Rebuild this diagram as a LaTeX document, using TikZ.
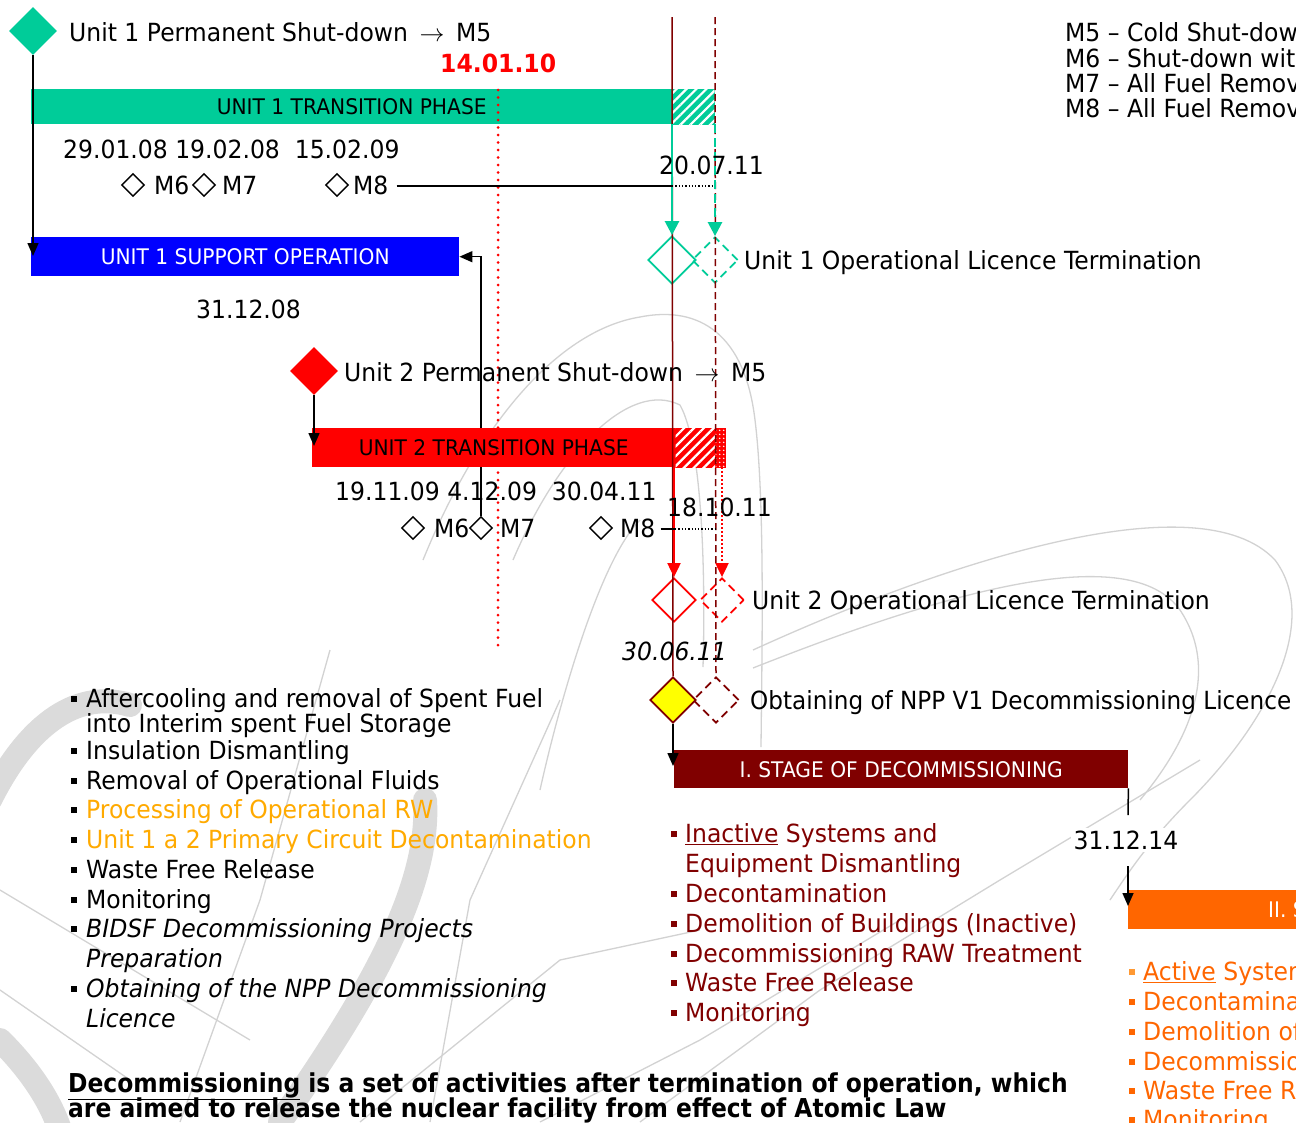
\documentclass[tikz,border=0pt]{standalone}
\usepackage{fontspec}
\setmainfont{DejaVu Sans}[FakeStretch=0.94]
\newfontfamily\tightfont{DejaVu Sans}[FakeStretch=0.925]
\newfontfamily\narrowbold{DejaVu Sans}[FakeStretch=0.9]
\usetikzlibrary{shapes.geometric,arrows.meta,patterns.meta}

\definecolor{ugreen}{HTML}{00CC99}
\definecolor{ublue}{HTML}{0000FF}
\definecolor{ured}{HTML}{FF0000}
\definecolor{maroon}{HTML}{800000}
\definecolor{storange}{HTML}{FF6600}
\definecolor{paleorange}{HTML}{FF9933}
\definecolor{gold}{HTML}{FFAA00}
\definecolor{wmgray}{HTML}{D2D2D2}
\definecolor{uyellow}{HTML}{FFFF00}

\begin{document}
\begin{tikzpicture}[x=1pt,y=-1pt,
  lbl/.style={font=\fontsize{25}{30}\selectfont, inner sep=0pt, anchor=base west},
  barlbl/.style={font=\fontsize{21.5}{25}\selectfont},
  bar/.style={anchor=north west, inner sep=0pt, minimum height=39pt},
  dia/.style={diamond, aspect=1, inner sep=0pt, minimum width=#1, minimum height=#1},
  ms/.style={diamond, aspect=1, draw=black, line width=1.4pt, inner sep=0pt, minimum width=23pt, minimum height=23pt},
  arr/.style={line width=1.5pt, -{Triangle[length=13pt,width=11pt]}},
  garr/.style={ugreen, line width=2.5pt, -{Triangle[length=14pt,width=14pt]}},
  rarr/.style={ured, line width=2pt, -{Triangle[length=14pt,width=13pt]}},
  dashd/.style={dash pattern=on 8pt off 5pt},
  bul/.style={rectangle, fill, inner sep=0pt, minimum size=6.5pt},
  wm/.style={wmgray, line width=1.3pt},
  wmthick/.style={wmgray!80, line width=24pt, line cap=round}
]
% page
\fill[white] (0,0) rectangle (1296,1122);
\useasboundingbox (0,0) rectangle (1296,1122);

% ---------- background emblem ----------
\draw[wmthick] (-10,800) .. controls (30,720) and (80,690) .. (130,705);
\draw[wmthick] (425,800) .. controls (430,880) and (380,980) .. (280,1122);
\draw[wmthick] (0,1040) .. controls (30,1070) and (50,1100) .. (60,1130);
% arcs in the middle
\draw[wm] (423,560) .. controls (480,420) and (560,330) .. (640,317)
           .. controls (700,305) and (745,335) .. (755,420)
           .. controls (765,500) and (762,650) .. (761,747);
\draw[wm] (513,560) .. controls (560,450) and (630,380) .. (680,405)
           .. controls (705,450) and (705,600) .. (703,667);
\draw[wm] (540,790) .. controls (560,700) and (600,560) .. (640,520);
% loops on the right
\draw[wm] (753,650) .. controls (950,560) and (1200,480) .. (1275,560)
           .. controls (1320,620) and (1270,720) .. (1190,800)
           .. controls (1150,840) and (1130,870) .. (1110,900);
\draw[wm] (753,668) .. controls (950,590) and (1130,540) .. (1180,610)
           .. controls (1220,670) and (1190,740) .. (1140,800);
% straight strokes
\draw[wm] (0,890) -- (250,1040);
\draw[wm] (0,990) -- (130,1080);
\draw[wm] (360,1122) -- (560,960) -- (700,930);
\draw[wm] (640,1122) -- (820,990) -- (1000,880) -- (1200,760);
\draw[wm] (540,1122) -- (700,1040) -- (900,920);
\draw[wm] (180,1122) -- (260,900) -- (330,650);
\draw[wm] (430,1122) -- (470,900) -- (560,700);

% ---------- connector from unit 2 M7 up to support operation ----------
\node[ms] (u2m7) at (481,528) {};
\node[bar, fill=ublue, minimum width=428pt, text=white, barlbl] (u1so) at (31,237) {UNIT 1 SUPPORT OPERATION};
\draw[arr] (u2m7.north) |- (u1so.east);

% ---------- phase bars ----------
\node[bar, fill=ugreen, minimum width=641pt, minimum height=35pt, barlbl] (u1tp) at (31,89) {UNIT 1 TRANSITION PHASE};
\node[bar, fill=ugreen, draw=ugreen, line width=1pt, minimum width=42pt, minimum height=35pt,
      postaction={pattern={Lines[angle=45,distance=7pt,line width=2.2pt]}, pattern color=white}] (u1tph) at (672,89) {};
\node[bar, fill=ured, minimum width=363pt, barlbl] (u2tp) at (312,428) {UNIT 2 TRANSITION PHASE};
\node[bar, fill=ured, draw=ured, line width=1pt, minimum width=40pt,
      postaction={pattern={Lines[angle=45,distance=7pt,line width=2.2pt]}, pattern color=white}] (u2tph) at (675,428) {};
\node[bar, fill=ured, draw=ured, line width=1pt, minimum width=10pt,
      postaction={pattern={Dots[radius=1pt,distance=4pt]}, pattern color=white}] (u2tpd) at (715,428) {};
\node[bar, fill=maroon, minimum width=454pt, minimum height=38pt, text=white, barlbl] (st1) at (674,750) {I. STAGE OF DECOMMISSIONING};
\node[bar, fill=storange, minimum width=320pt] (st2) at (1128,890) {};
\node[barlbl, text=white, anchor=base west, inner sep=0pt] (st2l) at (1268,917) {II. STAGE OF DECOMMISSIONING};

% ---------- milestones ----------
\node[dia=48pt, fill=ugreen] (u1sd) at (33,31) {};
\node[dia=48pt, fill=ured] (u2sd) at (314,371) {};
\node[dia=48pt, draw=ugreen, line width=1.8pt] (u1olt) at (672,260) {};
\node[dia=46pt, draw=ugreen, line width=1.8pt, dashd] (u1oltp) at (715,260) {};
\node[dia=44pt, draw=ured, line width=1.8pt] (u2olt) at (674,600) {};
\node[dia=44pt, draw=ured, line width=1.8pt, dashd] (u2oltp) at (722,600) {};
\node[dia=46pt, fill=uyellow, draw=maroon, line width=1.8pt] (lic) at (673,700) {};
\node[dia=46pt, draw=maroon, line width=1.8pt, dashd] (licp) at (716,700) {};

% ---------- time lines ----------
\coordinate (rtop) at (498,90);
\coordinate (rbot) at (498,650);
\draw[ured, line width=3pt, line cap=round, dash pattern=on 0pt off 7.5pt] (rtop) -- (rbot);
\coordinate (mtop) at (672,17);
\coordinate (mdtop) at (715,17);
\draw[maroon, line width=1.5pt] (mtop) -- (lic.north);
\draw[maroon, line width=1.5pt, dash pattern=on 7pt off 4pt] (mdtop) -- (licp.north);

% ---------- milestone connectors ----------
\draw[arr] (u1sd.south) -- (33,256);
\draw[arr] (u2sd.south) -- (u2sd.south |- 0,446);
\draw[arr] (lic.south) -- (673,766);
\draw[line width=1.5pt] (st1.south east) -- (1128,815);
\draw[arr] (1128,866) -- (1128,906);
\draw[garr] (u1olt.north |- u1tp.south) -- (u1olt.north);
\draw[garr, dash pattern=on 9pt off 5pt] (u1oltp.north |- u1tp.south) -- (u1oltp.north);
\draw[rarr] (u2olt.north |- u2tp.south) -- (u2olt.north);
\draw[rarr, line width=2pt, dash pattern=on 2pt off 2pt] (u2oltp.north |- u2tp.south) -- (u2oltp.north);

% ---------- unit 1 milestones ----------
\node[ms] (u1m6) at (133,185) {};
\node[ms] (u1m7) at (204,185) {};
\node[ms] (u1m8) at (337,185) {};
\node[lbl] (u1m6l) at (154,194) {M6};
\node[lbl] (u1m7l) at (222,194) {M7};
\node[lbl] (u1m8l) at (353,194) {M8};
\coordinate (u1m8a) at (672,186);
\coordinate (u1m8b) at (714,186);
\draw[line width=1.3pt] ([xshift=8pt]u1m8l.base east |- u1m8a) -- (u1m8a);
\draw[line width=1.3pt, dotted] (u1m8a) -- (u1m8b);
\node[lbl] (u1d) at (63,158) {29.01.08 19.02.08\ \ 15.02.09};
\node[lbl] (u1d8) at (659,174) {20.07.11};

% ---------- unit 2 milestones ----------
\node[ms] (u2m6) at (413,528) {};
\node[ms] (u2m8) at (601,528) {};
\node[lbl] (u2m6l) at (434,537) {M6};
\node[lbl] (u2m7l) at (500,537) {M7};
\node[lbl] (u2m8l) at (620,537) {M8};
\coordinate (u2m8a) at (675,529);
\coordinate (u2m8b) at (715,529);
\draw[line width=1.3pt] ([xshift=5pt]u2m8l.base east |- u2m8a) -- (u2m8a);
\draw[line width=1.3pt, dotted] (u2m8a) -- (u2m8b);
\node[lbl] (u2d) at (335,500) {19.11.09 4.12.09\ \ 30.04.11};
\node[lbl] (u2d8) at (667,516) {18.10.11};

% ---------- labels ----------
\node[lbl] (t1) at (69,41) {Unit 1 Permanent Shut-down $\,\rightarrow\,$ M5};
\node[lbl, font=\fontsize{25}{30}\selectfont\bfseries, text=ured] (d140110) at (440,72) {14.01.10};
\node[lbl] (t2) at (744,269) {Unit 1 Operational Licence Termination};
\node[lbl] (t3) at (196,318) {31.12.08};
\node[lbl] (t4) at (344,381) {Unit 2 Permanent Shut-down $\,\rightarrow\,$ M5};
\node[lbl] (t5) at (752,609) {Unit 2 Operational Licence Termination};
\node[lbl, font=\fontsize{25}{30}\selectfont\itshape] (t6) at (622,660) {30.06.11};
\node[lbl, font=\fontsize{25}{30}\tightfont] (t7) at (750,709) {Obtaining of NPP V1 Decommissioning Licence};
\node[lbl, fill=white, inner sep=3pt, anchor=center] (t8) at (1126,840) {31.12.14};

% ---------- legend ----------
\node[lbl] (k5) at (1065,41) {M5 – Cold Shut-down};
\node[lbl] (k6) at (1065,67) {M6 – Shut-down without fuel};
\node[lbl] (k7) at (1065,92) {M7 – All Fuel Removed};
\node[lbl] (k8) at (1065,117) {M8 – All Fuel Removed};

% ---------- activities before decommissioning ----------
\foreach \y in {707,759,789,818,848,878,908,937,997}
  \node[bul] at (74,\y-8) {};
\node[lbl] (a1) at (86,707) {Aftercooling and removal of Spent Fuel};
\node[lbl] (a1b) at (86,732) {into Interim spent Fuel Storage};
\node[lbl] (a2) at (86,759) {Insulation Dismantling};
\node[lbl] (a3) at (86,789) {Removal of Operational Fluids};
\node[lbl, text=gold] (a4) at (86,818) {Processing of Operational RW};
\node[lbl, text=gold] (a5) at (86,848) {Unit 1 a 2 Primary Circuit Decontamination};
\node[lbl] (a6) at (86,878) {Waste Free Release};
\node[lbl] (a7) at (86,908) {Monitoring};
\node[lbl, font=\fontsize{25}{30}\selectfont\itshape] (a8) at (86,937) {BIDSF Decommissioning Projects};
\node[lbl, font=\fontsize{25}{30}\selectfont\itshape] (a8b) at (86,967) {Preparation};
\node[lbl, font=\fontsize{25}{30}\selectfont\itshape] (a9) at (86,997) {Obtaining of the NPP Decommissioning};
\node[lbl, font=\fontsize{25}{30}\selectfont\itshape] (a9b) at (86,1027) {Licence};

% ---------- stage I activities ----------
\foreach \y in {842,902,932,962,991,1021}
  \node[bul, fill=maroon] at (674,\y-8) {};
\node[lbl, text=maroon] (b1) at (685,842) {\underline{Inactive} Systems and};
\node[lbl, text=maroon] (b1b) at (685,872) {Equipment Dismantling};
\node[lbl, text=maroon] (b2) at (685,902) {Decontamination};
\node[lbl, text=maroon] (b3) at (685,932) {Demolition of Buildings (Inactive)};
\node[lbl, text=maroon] (b4) at (685,962) {Decommissioning RAW Treatment};
\node[lbl, text=maroon] (b5) at (685,991) {Waste Free Release};
\node[lbl, text=maroon] (b6) at (685,1021) {Monitoring};

% ---------- stage II activities ----------
\node[bul, fill=paleorange] at (1132,972) {};
\foreach \y in {1010,1040,1070,1099,1128}
  \node[bul, fill=storange] at (1132,\y-8) {};
\node[lbl, text=storange] (c1) at (1143,980) {\underline{Active} Systems and Equipment};
\node[lbl, text=storange] (c2) at (1143,1010) {Decontamination};
\node[lbl, text=storange] (c3) at (1143,1040) {Demolition of Buildings};
\node[lbl, text=storange] (c4) at (1143,1070) {Decommissioning RAW};
\node[lbl, text=storange] (c5) at (1143,1099) {Waste Free Release};
\node[lbl, text=storange] (c6) at (1143,1128) {Monitoring};

% ---------- definition ----------
\node[lbl, font=\fontsize{26}{30}\narrowbold\bfseries] (def1) at (68,1092) {\underline{Decommissioning} is a set of activities after termination of operation, which};
\node[lbl, font=\fontsize{26}{30}\narrowbold\bfseries] (def2) at (68,1117) {are aimed to release the nuclear facility from effect of Atomic Law};
\end{tikzpicture}
\end{document}
